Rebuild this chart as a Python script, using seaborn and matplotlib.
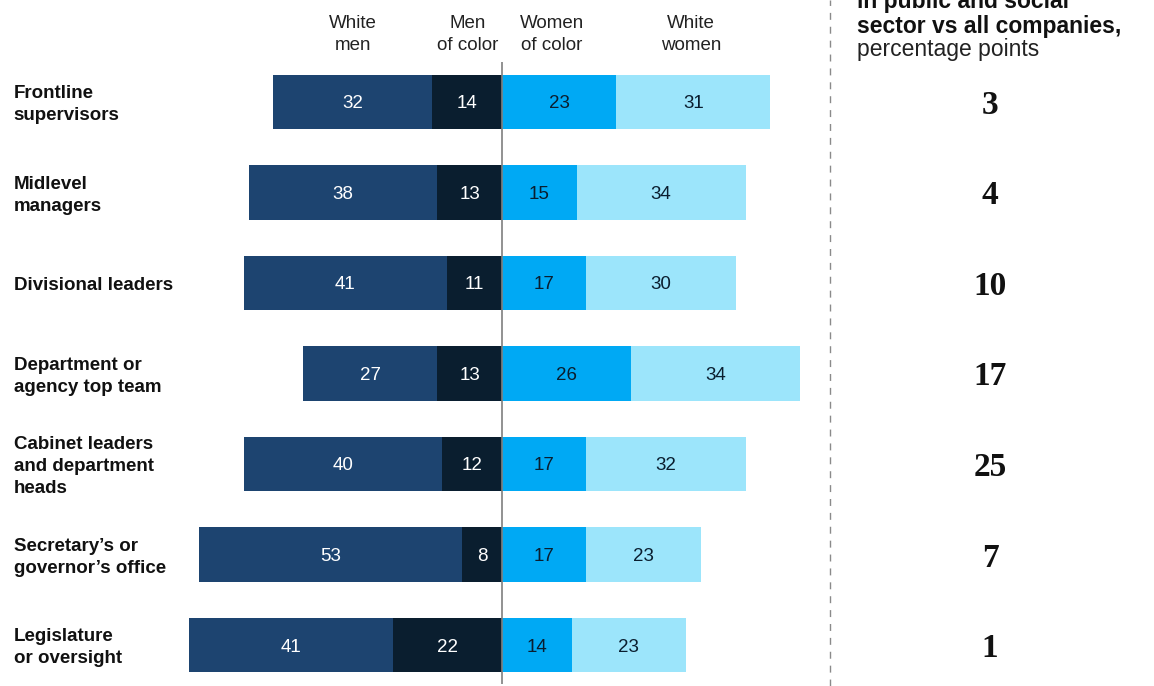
import matplotlib.pyplot as plt
from matplotlib.lines import Line2D
from matplotlib.transforms import blended_transform_factory
import pandas as pd
import seaborn as sns

# Data
roles = [
    "Frontline\nsupervisors",
    "Midlevel\nmanagers",
    "Divisional leaders",
    "Department or\nagency top team",
    "Cabinet leaders\nand department\nheads",
    "Secretary\u2019s or\ngovernor\u2019s office",
    "Legislature\nor oversight",
]
white_men = [32, 38, 41, 27, 40, 53, 41]
men_of_color = [14, 13, 11, 13, 12, 8, 22]
women_of_color = [23, 15, 17, 26, 17, 17, 14]
white_women = [31, 34, 30, 34, 32, 23, 23]
gap_vs_all = [3, 4, 10, 17, 25, 7, 1]

group_labels = ["White\nmen", "Men\nof color", "Women\nof color", "White\nwomen"]

df = pd.DataFrame({
    'role': roles,
    'white_men': white_men,
    'men_of_color': men_of_color,
    'women_of_color': women_of_color,
    'white_women': white_women,
})
# stacking: draw totals first, then inner segment on top
df['left_total'] = -(df['white_men'] + df['men_of_color'])
df['left_inner'] = -df['men_of_color']
df['right_total'] = df['women_of_color'] + df['white_women']
df['right_inner'] = df['women_of_color']

C_WM = '#1d4470'
C_MC = '#0a1e2f'
C_WC = '#00a9f4'
C_WW = '#9ce5fb'
DARK = '#0a1e2f'

sns.set_style('white')
plt.rcParams['font.family'] = ['Liberation Sans', 'DejaVu Sans']

fig = plt.figure(figsize=(11.54, 6.86), dpi=100)
ax = fig.add_axes([180 / 1154, 2 / 686, 650 / 1154, 622 / 686])

for col, color in [('left_total', C_WM), ('left_inner', C_MC),
                   ('right_total', C_WW), ('right_inner', C_WC)]:
    sns.barplot(data=df, x=col, y='role', color=color, width=0.6, orient='h',
                saturation=1, linewidth=0, ax=ax)

ax.set_xlim(-64.8, 66.0)
ax.set_ylim(6.43, -0.44)
ax.set_xlabel('')
ax.set_ylabel('')
sns.despine(ax=ax, left=True, bottom=True)
ax.set_xticks([10, 20, 30, 40, 50, 60])
ax.tick_params(axis='x', labelbottom=False, length=2, width=0.8, color='#b0b0b0', direction='out')
ax.tick_params(axis='y', labelleft=False, length=1.2, width=0.8, color='#909090')

ax.axvline(0, color='#7f7f7f', lw=1.2, zorder=5)

# values inside the segments
for i in range(len(roles)):
    wm, mc, wc, ww = white_men[i], men_of_color[i], women_of_color[i], white_women[i]
    kw = dict(ha='center', va='center_baseline', fontsize=13.5, zorder=6)
    ax.text(-(mc + wm / 2), i, str(wm), color='white', **kw)
    ax.text(-mc / 2, i, str(mc), color='white', **kw)
    ax.text(wc / 2, i, str(wc), color=DARK, **kw)
    ax.text(wc + ww / 2, i, str(ww), color=DARK, **kw)

# row labels, left aligned
for i, role in enumerate(roles):
    ax.text(-0.256, i + 0.03, role, transform=ax.get_yaxis_transform(), ha='left', va='center',
            fontsize=13.5, fontweight='bold', color='#111111', linespacing=1.38)

# column headers
header_x = [-30, -7, 10, 38]
for x, lab in zip(header_x, group_labels):
    ax.text(x, 1.044, lab, transform=ax.get_xaxis_transform(), ha='center', va='center',
            fontsize=13.5, color='#222222', linespacing=1.4, clip_on=False)

# right column: gap numbers
trans = blended_transform_factory(fig.transFigure, ax.transData)
for i, g in enumerate(gap_vs_all):
    ax.text(990 / 1154, i, str(g), transform=trans, ha='center', va='center_baseline',
            fontsize=24, fontweight='bold', family='Liberation Serif', color='#111111')

# right header (cut at the top)
fig.text(857 / 1154, 1 - 8 / 686, 'in public and social', fontsize=16.5, fontweight='bold',
         va='baseline', ha='left', color='#111111')
fig.text(857 / 1154, 1 - 33 / 686, 'sector vs all companies,', fontsize=16.5, fontweight='bold',
         va='baseline', ha='left', color='#111111')
fig.text(857 / 1154, 1 - 56 / 686, 'percentage points', fontsize=16.5,
         va='baseline', ha='left', color='#222222')

# dashed divider
fig.add_artist(Line2D([830 / 1154, 830 / 1154], [0, 1], transform=fig.transFigure,
                      color='#8a8a8a', lw=1, linestyle=(0, (5, 5))))

fig.savefig('out.png', dpi=100)
